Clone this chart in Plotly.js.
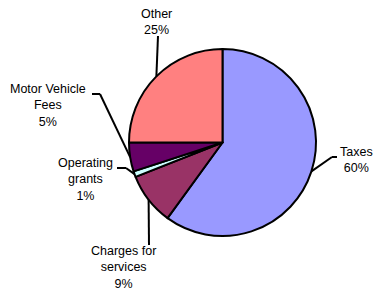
<!DOCTYPE html>
<html>
<head>
<meta charset="utf-8">
<script src="https://cdn.plot.ly/plotly-3.0.1.min.js"></script>
<style>
html,body{margin:0;padding:0;background:#fff;}
#chart{width:376px;height:291px;}
</style>
</head>
<body>
<div id="chart"></div>
<script>
// Data
const categories = ["Taxes", "Charges for services", "Operating grants", "Motor Vehicle Fees", "Other"];
const values = [60, 9, 1, 5, 25];
const labelTexts = ["Taxes<br>60%", "Charges for<br>services<br>9%", "Operating<br>grants<br>1%", "Motor Vehicle<br>Fees<br>5%", "Other<br>25%"];
const colors = ["#9999FF", "#993366", "#CCFFFF", "#660066", "#FF8080"];

// Layout constants (pixels)
const W = 376, H = 291;
const CX = 222.5, CY = 142.5, R = 93.5;
// label block centers
const labelPos = [[356, 160], [124, 267], [85, 179], [48, 105], [156, 22]];
// leader elbow points (after the edge point)
const leaderPts = [
  [[332, 157], [337, 157]],
  [[149, 245]],
  [[126, 168], [117, 168]],
  [[100, 94], [92, 94]],
  [[158, 36]]
];

const px = x => x / W;
const py = y => 1 - y / H;

const total = values.reduce((a, b) => a + b, 0);
let cum = 0;
const shapes = [];
const annotations = [];
values.forEach((v, i) => {
  const mid = (cum + v / 2) / total * 2 * Math.PI;
  cum += v;
  const ex = CX + R * Math.sin(mid);
  const ey = CY - R * Math.cos(mid);
  let prev = [ex, ey];
  leaderPts[i].forEach(p => {
    shapes.push({type: "line", xref: "paper", yref: "paper",
      x0: px(prev[0]), y0: py(prev[1]), x1: px(p[0]), y1: py(p[1]),
      line: {color: "#000", width: 2}});
    prev = p;
  });
  annotations.push({xref: "paper", yref: "paper", x: px(labelPos[i][0]), y: py(labelPos[i][1]),
    xanchor: "center", yanchor: "middle", showarrow: false, align: "center",
    text: labelTexts[i], font: {family: "Liberation Sans, Arial, sans-serif", size: 12.5, color: "#000"}});
});

const trace = {
  type: "pie",
  labels: categories,
  values: values,
  sort: false,
  direction: "clockwise",
  rotation: 0,
  textinfo: "none",
  hoverinfo: "label+percent",
  marker: {colors: colors, line: {color: "#000", width: 2}},
  domain: {x: [px(CX - R), px(CX + R)], y: [py(CY + R), py(CY - R)]},
  showlegend: false
};

Plotly.newPlot("chart", [trace], {
  width: W, height: H,
  margin: {l: 0, r: 0, t: 0, b: 0},
  paper_bgcolor: "#fff",
  showlegend: false,
  shapes: shapes,
  annotations: annotations
}, {displayModeBar: false, staticPlot: true});
</script>
</body>
</html>
